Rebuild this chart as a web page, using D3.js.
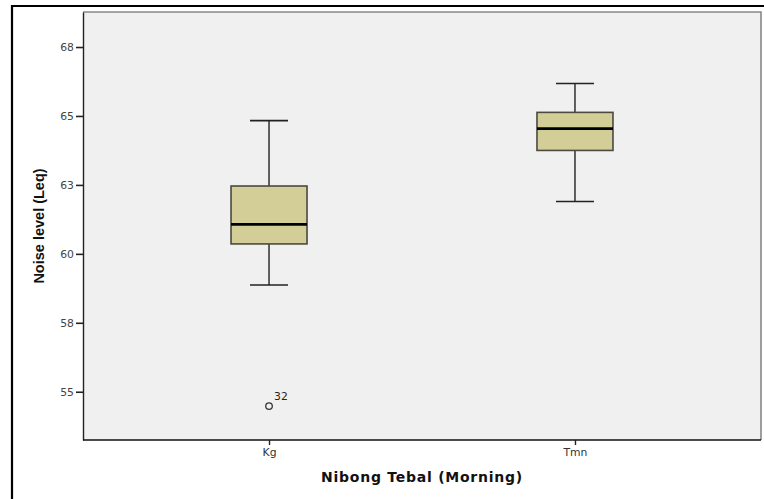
<!DOCTYPE html>
<html>
<head>
<meta charset="utf-8">
<script src="https://cdn.jsdelivr.net/npm/d3@7"></script>
<style>
  html, body { margin: 0; padding: 0; background: #fff; }
  svg { display: block; }
</style>
</head>
<body>
<svg id="chart" width="764" height="499"></svg>
<script>
// Groups along the x axis
const categories = ["Kg", "Tmn"];
// Five-number summaries per group (Leq, dB)
const whiskerLow  = [58.87, 61.90];
const q1          = [60.36, 63.75];
const median      = [61.07, 64.54];
const q3          = [62.46, 65.13];
const whiskerHigh = [64.83, 66.18];
// Outliers: group, value, case label
const outlierGroup = ["Kg"];
const outlierValue = [54.48];
const outlierLabel = ["32"];
// Y-axis ticks and their printed labels
const tickValues = [55, 57.5, 60, 62.5, 65, 67.5];
const tickLabels = ["55", "58", "60", "63", "65", "68"];

const svg = d3.select("#chart");
const W = 764, H = 499;
const plot = { left: 83, top: 12, right: 761, bottom: 440 };
const tickFont = "DejaVu Sans, Verdana, sans-serif";
const titleFont = "DejaVu Sans, Verdana, sans-serif";

// Outer frame (extends past the right and bottom edges)
svg.append("path")
  .attr("d", `M12,${H + 5} L12,6 L${W + 5},6`)
  .attr("fill", "none")
  .attr("stroke", "#000")
  .attr("stroke-width", 2.2);

const y = d3.scaleLinear().domain([53.25, 68.77]).range([plot.bottom, plot.top]);
const x = d3.scalePoint().domain(categories).range([plot.left, plot.right]).padding(0.608);

// Plot background
svg.append("rect")
  .attr("x", plot.left).attr("y", plot.top)
  .attr("width", plot.right - plot.left).attr("height", plot.bottom - plot.top)
  .attr("fill", "#f0f0f0");

// Top and right borders
svg.append("path")
  .attr("d", `M${plot.left},${plot.top} L${plot.right},${plot.top} L${plot.right},${plot.bottom}`)
  .attr("fill", "none").attr("stroke", "#888").attr("stroke-width", 1.6);

// Y axis
const yAxis = svg.append("g")
  .attr("transform", `translate(${plot.left},0)`)
  .call(d3.axisLeft(y).tickValues(tickValues)
    .tickFormat((d, i) => tickLabels[i]).tickSize(7).tickPadding(2).tickSizeOuter(0));
yAxis.select(".domain").attr("stroke", "#222").attr("stroke-width", 1.4);
yAxis.selectAll(".tick line").attr("stroke", "#222").attr("stroke-width", 1.6);
yAxis.selectAll(".tick text")
  .attr("font-family", tickFont)
  .attr("font-size", 10.8).attr("fill", "#444");

// X axis
const xAxis = svg.append("g")
  .attr("transform", `translate(0,${plot.bottom})`)
  .call(d3.axisBottom(x).tickSize(5).tickPadding(3).tickSizeOuter(0));
xAxis.select(".domain").attr("stroke", "#111").attr("stroke-width", 1.6)
  .attr("d", `M${plot.left},0H${plot.right}`);
xAxis.selectAll(".tick line").attr("stroke", "#222").attr("stroke-width", 1.4);
xAxis.selectAll(".tick text")
  .attr("font-family", tickFont)
  .attr("font-size", 10.8).attr("fill", "#333");

// Boxes
const boxW = 76, capW = 38;
const data = categories.map((c, i) => ({
  c, lo: whiskerLow[i], q1: q1[i], med: median[i], q3: q3[i], hi: whiskerHigh[i]
}));
const g = svg.selectAll(".box").data(data).enter().append("g").attr("class", "box");

// Whiskers
g.append("line")
  .attr("x1", d => x(d.c)).attr("x2", d => x(d.c))
  .attr("y1", d => y(d.hi)).attr("y2", d => y(d.q3))
  .attr("stroke", "#111").attr("stroke-width", 1.3);
g.append("line")
  .attr("x1", d => x(d.c)).attr("x2", d => x(d.c))
  .attr("y1", d => y(d.q1)).attr("y2", d => y(d.lo))
  .attr("stroke", "#111").attr("stroke-width", 1.3);
g.append("line")
  .attr("x1", d => x(d.c) - capW / 2).attr("x2", d => x(d.c) + capW / 2)
  .attr("y1", d => y(d.hi)).attr("y2", d => y(d.hi))
  .attr("stroke", "#222").attr("stroke-width", 1.6);
g.append("line")
  .attr("x1", d => x(d.c) - capW / 2).attr("x2", d => x(d.c) + capW / 2)
  .attr("y1", d => y(d.lo)).attr("y2", d => y(d.lo))
  .attr("stroke", "#222").attr("stroke-width", 1.6);

// IQR box
g.append("rect")
  .attr("x", d => x(d.c) - boxW / 2).attr("width", boxW)
  .attr("y", d => y(d.q3)).attr("height", d => y(d.q1) - y(d.q3))
  .attr("fill", "#d3ce97").attr("stroke", "#4a4a40").attr("stroke-width", 1.6);

// Median
g.append("line")
  .attr("x1", d => x(d.c) - boxW / 2).attr("x2", d => x(d.c) + boxW / 2)
  .attr("y1", d => y(d.med)).attr("y2", d => y(d.med))
  .attr("stroke", "#000").attr("stroke-width", 2.6);

// Outliers
const outliers = outlierValue.map((v, i) => ({ c: outlierGroup[i], v, label: outlierLabel[i] }));
svg.selectAll(".outlier").data(outliers).enter().append("circle")
  .attr("cx", d => x(d.c)).attr("cy", d => y(d.v)).attr("r", 3.3)
  .attr("fill", "none").attr("stroke", "#333").attr("stroke-width", 1.3);
svg.selectAll(".outlier-label").data(outliers).enter().append("text")
  .attr("x", d => x(d.c) + 5).attr("y", d => y(d.v) - 6)
  .attr("font-family", tickFont)
  .attr("font-size", 10.8).attr("fill", "#222")
  .text(d => d.label);

// Axis titles
svg.append("text")
  .attr("x", (plot.left + plot.right) / 2).attr("y", 482)
  .attr("text-anchor", "middle")
  .attr("font-family", titleFont)
  .attr("font-weight", "bold").attr("font-size", 14).attr("letter-spacing", 0.75)
  .attr("fill", "#111")
  .text("Nibong Tebal (Morning)");

svg.append("text")
  .attr("transform", `translate(44,${(plot.top + plot.bottom) / 2}) rotate(-90)`)
  .attr("text-anchor", "middle")
  .attr("font-family", "Liberation Sans, Arial, sans-serif")
  .attr("font-weight", "bold").attr("font-size", 14.5).attr("fill", "#111")
  .text("Noise level (Leq)");
</script>
</body>
</html>
